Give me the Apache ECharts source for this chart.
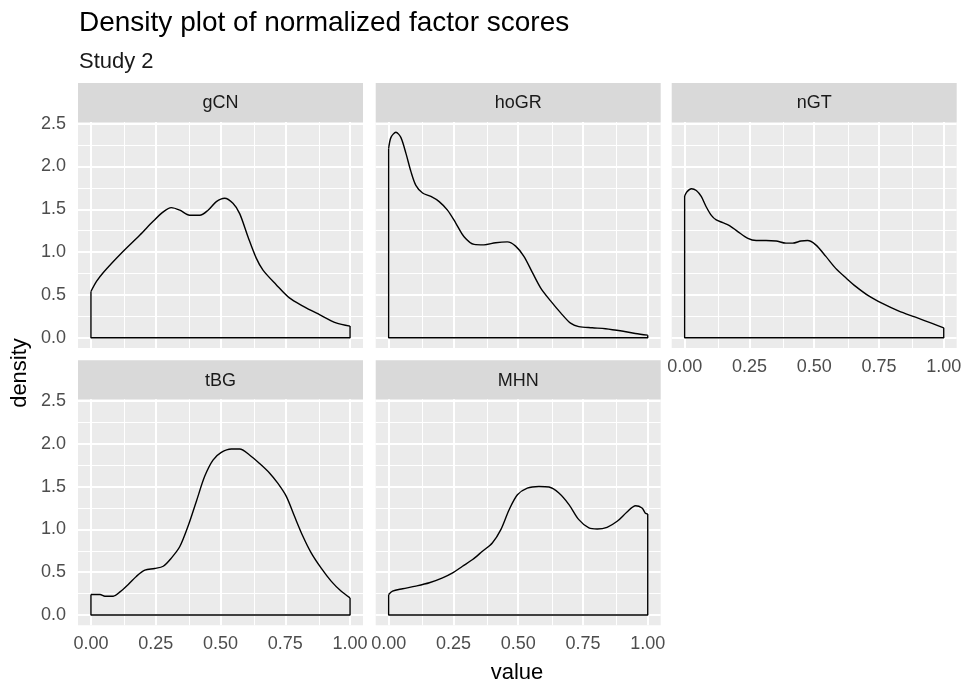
<!DOCTYPE html>
<html>
<head>
<meta charset="utf-8">
<title>Density plot of normalized factor scores</title>
<script src="https://cdn.jsdelivr.net/npm/echarts@6.0.0/dist/echarts.min.js"></script>
<style>
  html, body { margin: 0; padding: 0; background: #fff; }
  #chart { width: 967px; height: 687px; }
</style>
</head>
<body>
<div id="chart"></div>
<script>
// facet names, in panel order (row by row)
const panels = ['gCN', 'hoGR', 'nGT', 'tBG', 'MHN'];

// density curves
const gcnX = [0, 0.022, 0.047, 0.118, 0.189, 0.24, 0.279, 0.31, 0.343, 0.381, 0.42, 0.452, 0.484, 0.516, 0.548, 0.574, 0.606, 0.638, 0.664, 0.715, 0.766, 0.818, 0.882, 0.946, 1];
const gcnY = [0.54, 0.66, 0.76, 0.99, 1.2, 1.36, 1.47, 1.52, 1.49, 1.43, 1.43, 1.49, 1.59, 1.63, 1.57, 1.45, 1.18, 0.93, 0.79, 0.62, 0.465, 0.37, 0.27, 0.174, 0.136];

const hogrX = [0, 0.009, 0.028, 0.047, 0.067, 0.086, 0.105, 0.131, 0.163, 0.195, 0.227, 0.259, 0.291, 0.33, 0.368, 0.413, 0.458, 0.49, 0.522, 0.555, 0.587, 0.625, 0.664, 0.702, 0.734, 0.786, 0.837, 0.9, 0.952, 1];
const hogrY = [2.21, 2.34, 2.4, 2.34, 2.15, 1.94, 1.78, 1.69, 1.65, 1.59, 1.49, 1.34, 1.18, 1.09, 1.085, 1.11, 1.12, 1.07, 0.95, 0.76, 0.58, 0.43, 0.29, 0.17, 0.13, 0.116, 0.105, 0.078, 0.05, 0.03];

const ngtX = [0, 0.009, 0.026, 0.045, 0.064, 0.083, 0.103, 0.122, 0.147, 0.173, 0.205, 0.244, 0.276, 0.314, 0.353, 0.391, 0.417, 0.449, 0.474, 0.506, 0.545, 0.583, 0.622, 0.66, 0.712, 0.763, 0.827, 0.891, 0.955, 1];
const ngtY = [1.655, 1.705, 1.74, 1.72, 1.65, 1.53, 1.43, 1.376, 1.345, 1.31, 1.24, 1.16, 1.135, 1.135, 1.13, 1.105, 1.105, 1.13, 1.135, 1.085, 0.95, 0.81, 0.7, 0.6, 0.485, 0.4, 0.31, 0.24, 0.167, 0.116];

const tbgX = [0, 0.035, 0.054, 0.086, 0.112, 0.144, 0.176, 0.208, 0.246, 0.279, 0.311, 0.343, 0.375, 0.407, 0.439, 0.471, 0.503, 0.542, 0.574, 0.612, 0.651, 0.689, 0.721, 0.754, 0.786, 0.818, 0.85, 0.888, 0.927, 0.965, 1];
const tbgY = [0.24, 0.24, 0.22, 0.22, 0.27, 0.357, 0.454, 0.524, 0.543, 0.57, 0.668, 0.8, 1.04, 1.33, 1.62, 1.81, 1.9, 1.94, 1.94, 1.87, 1.77, 1.66, 1.54, 1.386, 1.15, 0.92, 0.726, 0.55, 0.396, 0.28, 0.2];

const mhnX = [0, 0.015, 0.054, 0.105, 0.157, 0.208, 0.247, 0.285, 0.324, 0.362, 0.4, 0.433, 0.465, 0.497, 0.535, 0.58, 0.619, 0.657, 0.696, 0.734, 0.773, 0.805, 0.843, 0.882, 0.92, 0.953, 0.978, 0.991, 1];
const mhnY = [0.24, 0.28, 0.307, 0.338, 0.377, 0.435, 0.493, 0.57, 0.648, 0.745, 0.842, 0.998, 1.23, 1.405, 1.483, 1.502, 1.495, 1.425, 1.29, 1.114, 1.017, 1.005, 1.025, 1.095, 1.203, 1.277, 1.25, 1.19, 1.18];

// tick labels and grid breaks
const xTicks = [0, 0.25, 0.5, 0.75, 1];
const xMinor = [0.125, 0.375, 0.625, 0.875];
const yTicks = [0, 0.5, 1, 1.5, 2, 2.5];
const yMinor = [0.25, 0.75, 1.25, 1.75, 2.25];

const curves = [[gcnX, gcnY], [hogrX, hogrY], [ngtX, ngtY], [tbgX, tbgY], [mhnX, mhnY]];

const chart = echarts.init(document.getElementById('chart'));

const FONT = '"Liberation Sans", Arial, sans-serif';
const colLeft = [78, 375.7, 671.7];
const rowTop = [122, 399.3];
const panelW = 285;
const panelH = 226;
const stripH = 39;

// which panels carry axis labels (like facet_wrap does)
const showX = [false, false, true, true, true];
const showY = [true, false, false, true, false];

const grids = [], xAxes = [], yAxes = [], series = [], graphics = [];

panels.forEach((name, i) => {
    const col = i % 3;
    const row = Math.floor(i / 3);
    const left = colLeft[col];
    const top = rowTop[row];

    grids.push({
        left: left, top: top, width: panelW, height: panelH,
        show: true, backgroundColor: '#ebebeb', borderWidth: 0
    });

    xAxes.push({
        type: 'value', gridIndex: i, min: -0.05, max: 1.05,
        axisLine: { show: false },
        splitLine: { show: false },
        axisTick: { show: showX[i], customValues: xTicks, length: 4, lineStyle: { color: '#333' } },
        axisLabel: {
            show: showX[i], customValues: xTicks, margin: 10,
            color: '#4d4d4d', fontSize: 18, fontFamily: FONT,
            formatter: v => v.toFixed(2)
        }
    });

    yAxes.push({
        type: 'value', gridIndex: i, min: -0.12, max: 2.52,
        axisLine: { show: false },
        splitLine: { show: false },
        axisTick: { show: showY[i], customValues: yTicks, length: 4, lineStyle: { color: '#333' } },
        axisLabel: {
            show: showY[i], customValues: yTicks, margin: 12,
            color: '#4d4d4d', fontSize: 18, fontFamily: FONT,
            formatter: v => v.toFixed(1)
        }
    });

    // white panel grid, drawn as mark lines under the curve
    const gridLines = [];
    xTicks.forEach(v => gridLines.push({ xAxis: v, lineStyle: { width: 2 } }));
    xMinor.forEach(v => gridLines.push({ xAxis: v, lineStyle: { width: 1 } }));
    yTicks.forEach(v => gridLines.push({ yAxis: v, lineStyle: { width: 2 } }));
    yMinor.forEach(v => gridLines.push({ yAxis: v, lineStyle: { width: 1 } }));

    series.push({
        type: 'line', xAxisIndex: i, yAxisIndex: i, data: [], silent: true, z: 1,
        markLine: {
            z: 1, silent: true, symbol: 'none', animation: false,
            label: { show: false },
            lineStyle: { color: '#ffffff', type: 'solid' },
            emphasis: { disabled: true },
            data: gridLines
        }
    });

    const xs = curves[i][0];
    const ys = curves[i][1];

    series.push({
        name: name, type: 'line', xAxisIndex: i, yAxisIndex: i, z: 10,
        data: xs.map((x, j) => [x, ys[j]]),
        smooth: 0.3, showSymbol: false,
        lineStyle: { color: '#000', width: 1.4 }
    });

    // closing edges of the density polygon
    series.push({
        type: 'line', xAxisIndex: i, yAxisIndex: i, z: 10,
        data: [[xs[0], ys[0]], [xs[0], 0], [xs[xs.length - 1], 0], [xs[xs.length - 1], ys[ys.length - 1]]],
        showSymbol: false,
        lineStyle: { color: '#000', width: 1.4 }
    });

    // facet strip
    graphics.push({
        type: 'rect', silent: true,
        shape: { x: left, y: top - stripH, width: panelW, height: stripH },
        style: { fill: '#d9d9d9' }
    });
    graphics.push({
        type: 'text', silent: true,
        x: left + panelW / 2, y: top - stripH / 2 + 1,
        style: {
            text: name, fill: '#1a1a1a', fontSize: 18, fontFamily: FONT,
            align: 'center', verticalAlign: 'middle'
        }
    });
});

// axis titles
graphics.push({
    type: 'text', silent: true, x: 20, y: 373, rotation: Math.PI / 2,
    style: { text: 'density', fill: '#000', fontSize: 22, fontFamily: FONT, align: 'center', verticalAlign: 'middle' }
});
graphics.push({
    type: 'text', silent: true, x: 517, y: 673,
    style: { text: 'value', fill: '#000', fontSize: 22, fontFamily: FONT, align: 'center', verticalAlign: 'middle' }
});

const option = {
    animation: false,
    title: {
        text: 'Density plot of normalized factor scores',
        subtext: 'Study 2',
        left: 74, top: 4, itemGap: 14,
        textStyle: { fontSize: 28, fontWeight: 'normal', color: '#000', fontFamily: FONT },
        subtextStyle: { fontSize: 22, color: '#1a1a1a', fontFamily: FONT }
    },
    grid: grids,
    xAxis: xAxes,
    yAxis: yAxes,
    series: series,
    graphic: graphics
};

chart.setOption(option);
</script>
</body>
</html>
